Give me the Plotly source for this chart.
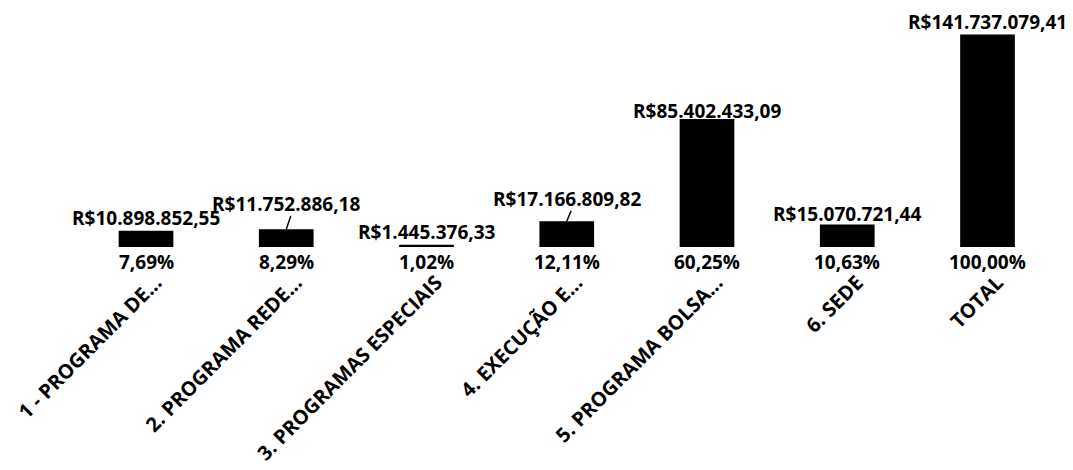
import plotly.graph_objects as go

categories = ["1 - PROGRAMA DE...", "2. PROGRAMA REDE...", "3. PROGRAMAS ESPECIAIS",
              "4. EXECUÇÃO E...", "5. PROGRAMA BOLSA...", "6. SEDE", "TOTAL"]
values = [10898852.55, 11752886.18, 1445376.33, 17166809.82, 85402433.09, 15070721.44, 141737079.41]
value_labels = ["R$10.898.852,55", "R$11.752.886,18", "R$1.445.376,33", "R$17.166.809,82",
                "R$85.402.433,09", "R$15.070.721,44", "R$141.737.079,41"]
pct_labels = ["7,69%", "8,29%", "1,02%", "12,11%", "60,25%", "10,63%", "100,00%"]

# style: distance (px) from bar top to data-label centre; moved labels get a leader line
label_gap = [13, 25, 13, 22, 8, 10, 12]
leader = [False, True, False, True, False, False, False]

FONT = "Open Sans"
lab_font = dict(family=FONT, size=19, color="#000000", weight="bold")

fig = go.Figure()
fig.add_trace(go.Bar(
    x=categories, y=values,
    marker=dict(color="#000000", line=dict(width=0)),
    showlegend=False, hoverinfo="x+y",
))

for c, v, t, gap, ld in zip(categories, values, value_labels, label_gap, leader):
    fig.add_annotation(x=c, y=v, text=t, showarrow=False, yanchor="middle",
                       yshift=gap, font=lab_font)
    if ld:
        fig.add_annotation(x=c, y=v, text="", showarrow=True, arrowhead=0,
                           arrowwidth=1.5, arrowcolor="#000000",
                           ax=5, ay=-(gap - 10), standoff=0)

for c, p in zip(categories, pct_labels):
    fig.add_annotation(x=c, y=0, text=p, showarrow=False, yanchor="top", yshift=0,
                       font=lab_font)

fig.update_layout(
    width=1065, height=462,
    margin=dict(l=60, r=4, t=14, b=220),
    paper_bgcolor="white", plot_bgcolor="white",
    bargap=0.61,
    xaxis=dict(tickangle=-45, showline=False, ticks="", showgrid=False,
               ticklabelstandoff=19, ticklabelshift=10,
               tickfont=dict(family=FONT, size=20, color="#000000", weight="bold")),
    yaxis=dict(visible=False, range=[0, 150000000]),
)

fig.write_html("out.html")
